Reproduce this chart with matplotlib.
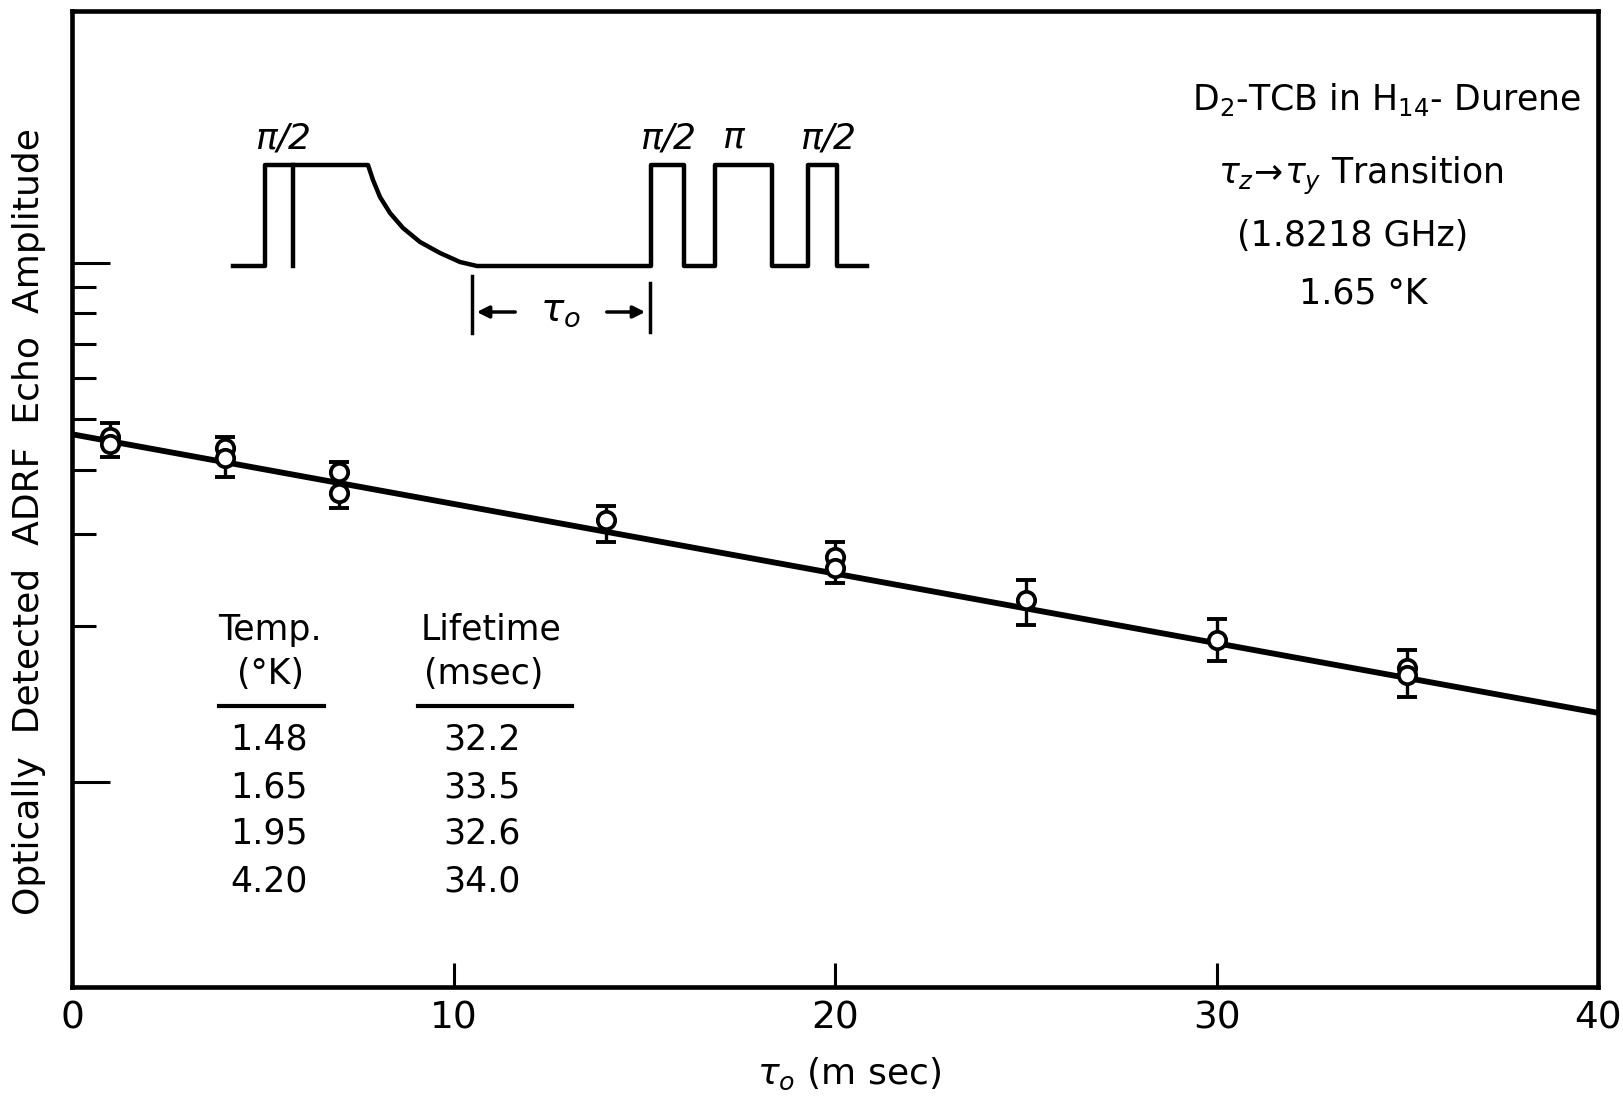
import numpy as np
import matplotlib
matplotlib.use("Agg")
import matplotlib.pyplot as plt

# echo amplitude data (tau_o in msec, amplitude in arbitrary log units)
tau_pts = [1, 1, 4, 4, 7, 7, 14, 20, 20, 25, 30, 35, 35]
amp_pts = [0.462, 0.448, 0.440, 0.421, 0.396, 0.360, 0.320, 0.271, 0.258, 0.224, 0.188, 0.166, 0.161]

# error bars, one per delay
err_tau = [1, 4, 7, 14, 20, 25, 30, 35]
err_lo = [0.423, 0.387, 0.337, 0.290, 0.242, 0.201, 0.171, 0.146]
err_hi = [0.492, 0.462, 0.414, 0.340, 0.290, 0.245, 0.206, 0.180]

# exponential fit (straight on the log axis), end points
fit_tau = [0, 40]
fit_amp = [0.468, 0.136]

x_ticks = [0, 10, 20, 30, 40]
x_ticklabels = ['0', '10', '20', '30', '40']

# inset table
temps = ['1.48', '1.65', '1.95', '4.20']
lifetimes = ['32.2', '33.5', '32.6', '34.0']

plt.rcParams['font.family'] = 'DejaVu Sans'
plt.rcParams['mathtext.fontset'] = 'dejavusans'

fig = plt.figure(figsize=(16.23, 10.96), dpi=100)
ax = fig.add_axes([72 / 1623, 1 - 987 / 1096, (1598 - 72) / 1623, (987 - 11) / 1096])

ax.set_yscale('log')
ax.set_xlim(0, 40)
ax.set_ylim(0.0403, 3.06)

# error bars first so the open circles sit on top
lo = np.array(err_lo)
hi = np.array(err_hi)
ax.errorbar(err_tau, lo, yerr=[np.zeros_like(lo), hi - lo], fmt='none', ecolor='black',
            elinewidth=2.4, capsize=7.5, capthick=2.8, zorder=2)
ax.plot(fit_tau, fit_amp, color='black', linewidth=4.2, zorder=3)
ax.plot(tau_pts, amp_pts, linestyle='none', marker='o', markersize=12.5, markerfacecolor='white',
        markeredgecolor='black', markeredgewidth=2.7, zorder=4)

# axes styling
for s in ax.spines.values():
    s.set_linewidth(3.3)
ax.set_xticks(x_ticks)
ax.set_xticklabels(x_ticklabels)
ax.tick_params(axis='x', direction='in', length=17, width=2.2, labelsize=27, pad=10, top=False)
ax.set_yticks([0.1, 1.0])
ax.set_yticks([0.2, 0.3, 0.4, 0.5, 0.6, 0.7, 0.8, 0.9], minor=True)
ax.yaxis.set_major_formatter(matplotlib.ticker.NullFormatter())
ax.yaxis.set_minor_formatter(matplotlib.ticker.NullFormatter())
ax.tick_params(axis='y', which='major', direction='in', length=27, width=2.2, right=False)
ax.tick_params(axis='y', which='minor', direction='in', length=17, width=2.2, right=False)

# overlay in pixel coordinates for the labels, schematic and notes
deco = fig.add_axes([0, 0, 1, 1], zorder=5)
deco.set_xlim(0, 1623)
deco.set_ylim(1096, 0)
deco.axis('off')
deco.patch.set_alpha(0)

deco.text(29, 522, 'Optically  Detected  ADRF  Echo  Amplitude', rotation=90,
          ha='center', va='center', fontsize=26)
deco.text(849, 1074, r'$\tau_o$ (m sec)', ha='center', va='center', fontsize=26)

# pulse sequence schematic
pulse_x = [233, 265, 265, 368, 373, 380, 390, 403, 420, 440, 460, 477, 651, 651, 684, 684,
           715, 715, 772, 772, 808, 808, 837, 837, 867]
pulse_y = [266, 266, 165, 165, 180, 197, 213, 228, 242, 253, 262, 266, 266, 165, 165, 266,
           266, 165, 165, 266, 266, 165, 165, 266, 266]
deco.plot(pulse_x, pulse_y, color='black', linewidth=3.2, solid_joinstyle='round')
deco.plot([293, 293], [165, 266], color='black', linewidth=3.2)
for lbl, px in [(r'$\pi$/2', 283), (r'$\pi$/2', 668), (r'$\pi$', 734), (r'$\pi$/2', 828)]:
    deco.text(px, 138, lbl, ha='center', va='center', fontsize=26, style='italic')

deco.plot([472, 472], [276, 333], color='black', linewidth=2.5)
deco.plot([650, 650], [283, 332], color='black', linewidth=2.5)
deco.annotate('', xy=(474, 312), xytext=(518, 312),
              arrowprops=dict(arrowstyle='-|>', color='black', lw=2.5, mutation_scale=18))
deco.annotate('', xy=(648, 312), xytext=(604, 312),
              arrowprops=dict(arrowstyle='-|>', color='black', lw=2.5, mutation_scale=18))
deco.text(560, 310, r'$\tau_o$', ha='center', va='center', fontsize=28)

# sample notes, top right
deco.text(1387, 100, r'D$_2$-TCB in H$_{14}$- Durene', ha='center', va='center', fontsize=25)
deco.text(1361, 176, r'$\tau_z\!\rightarrow\!\tau_y$ Transition', ha='center', va='center', fontsize=25)
deco.text(1353, 236, '(1.8218 GHz)', ha='center', va='center', fontsize=25)
deco.text(1363, 293, '1.65 °K', ha='center', va='center', fontsize=25)

# temperature / lifetime table
deco.text(270, 630, 'Temp.', ha='center', va='center', fontsize=25)
deco.text(270, 674, '(°K)', ha='center', va='center', fontsize=25)
deco.text(491, 630, 'Lifetime', ha='center', va='center', fontsize=25)
deco.text(484, 674, '(msec)', ha='center', va='center', fontsize=25)
deco.plot([219, 324], [706, 706], color='black', linewidth=3)
deco.plot([418, 572], [706, 706], color='black', linewidth=3)
for i in range(len(temps)):
    yy = 740 + 47 * i
    deco.text(269, yy, temps[i], ha='center', va='center', fontsize=25)
    deco.text(482, yy, lifetimes[i], ha='center', va='center', fontsize=25)

fig.savefig('out.png', dpi=100)
